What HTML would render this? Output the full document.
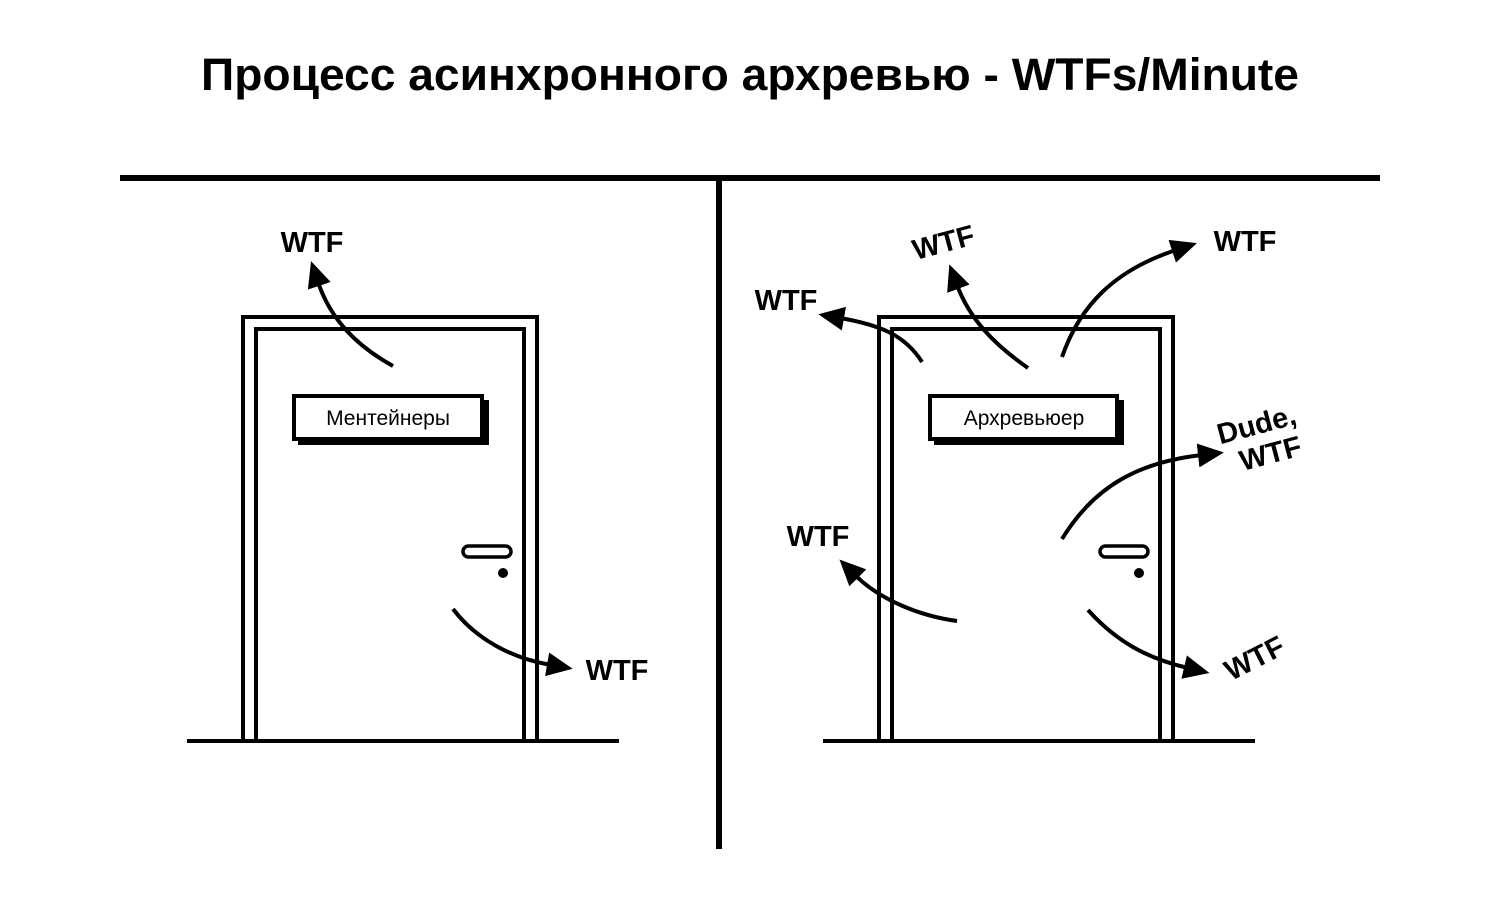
<!DOCTYPE html>
<html><head><meta charset="utf-8"><style>
html,body{margin:0;padding:0;background:#fff;width:1500px;height:902px;overflow:hidden}
svg{display:block}
text{font-family:"Liberation Sans","DejaVu Sans",sans-serif;fill:#000}
</style></head><body>
<svg width="1500" height="902" viewBox="0 0 1500 902" xmlns="http://www.w3.org/2000/svg">
<defs>
<marker id="ah" markerUnits="userSpaceOnUse" markerWidth="30" markerHeight="30" refX="4" refY="12" orient="auto">
<path d="M0,0 L26,12 L0,24 Z" fill="#000"/>
</marker>
</defs>
<text x="750" y="90" text-anchor="middle" font-size="45" font-weight="bold" textLength="1098" lengthAdjust="spacingAndGlyphs">Процесс асинхронного архревью - WTFs/Minute</text>
<line x1="120" y1="178" x2="1380" y2="178" stroke="#000" stroke-width="6"/>
<line x1="719" y1="178" x2="719" y2="849" stroke="#000" stroke-width="6"/>

<!-- left door -->
<g fill="none" stroke="#000" stroke-width="4">
<path d="M243,740 V317 H537 V740"/>
<path d="M256,740 V329 H524 V740"/>
<line x1="187" y1="741" x2="619" y2="741"/>
<rect x="463" y="546" width="48" height="11" rx="5.5" stroke-width="3.5"/>
</g>
<rect x="298" y="400" width="191" height="45" fill="#000"/>
<rect x="294" y="396" width="188" height="43" fill="#fff" stroke="#000" stroke-width="4"/>
<text x="388" y="425" text-anchor="middle" font-size="21" font-weight="500">Ментейнеры</text>
<circle cx="503" cy="573" r="5" fill="#000"/>
<g fill="none" stroke="#000" stroke-width="4">
<path d="M393,366 C355,345 330,318 318,282" marker-end="url(#ah)"/>
<path d="M453,609 C475,638 510,658 551,665" marker-end="url(#ah)"/>
</g>
<text x="312" y="252" text-anchor="middle" font-size="29" font-weight="bold">WTF</text>
<text x="617" y="680" text-anchor="middle" font-size="29" font-weight="bold">WTF</text>

<!-- right door -->
<g fill="none" stroke="#000" stroke-width="4">
<path d="M879,740 V317 H1173 V740"/>
<path d="M892,740 V329 H1160 V740"/>
<line x1="823" y1="741" x2="1255" y2="741"/>
<rect x="1100" y="546" width="48" height="11" rx="5.5" stroke-width="3.5"/>
</g>
<rect x="934" y="400" width="190" height="45" fill="#000"/>
<rect x="930" y="396" width="187" height="43" fill="#fff" stroke="#000" stroke-width="4"/>
<text x="1024" y="425" text-anchor="middle" font-size="21" font-weight="500">Архревьюер</text>
<circle cx="1139" cy="573" r="5" fill="#000"/>
<g fill="none" stroke="#000" stroke-width="4">
<path d="M922,362 C905,335 880,325 840,318" marker-end="url(#ah)"/>
<path d="M1028,368 C995,345 970,320 957,285" marker-end="url(#ah)"/>
<path d="M1062,357 C1080,305 1115,270 1176,250" marker-end="url(#ah)"/>
<path d="M1062,539 C1095,485 1140,462 1202,455" marker-end="url(#ah)"/>
<path d="M957,621 C920,616 880,600 855,575" marker-end="url(#ah)"/>
<path d="M1088,610 C1115,640 1145,658 1188,668" marker-end="url(#ah)"/>
</g>
<text x="786" y="310" text-anchor="middle" font-size="29" font-weight="bold">WTF</text>
<text transform="translate(946,252) rotate(-15)" text-anchor="middle" font-size="29" font-weight="bold">WTF</text>
<text x="1245" y="251" text-anchor="middle" font-size="29" font-weight="bold">WTF</text>
<text x="818" y="546" text-anchor="middle" font-size="29" font-weight="bold">WTF</text>
<text transform="translate(1259,434) rotate(-15)" text-anchor="middle" font-size="29" font-weight="bold">Dude,</text>
<text transform="translate(1273,463) rotate(-15)" text-anchor="middle" font-size="29" font-weight="bold">WTF</text>
<text transform="translate(1259,667) rotate(-27)" text-anchor="middle" font-size="29" font-weight="bold">WTF</text>
</svg>
</body></html>
